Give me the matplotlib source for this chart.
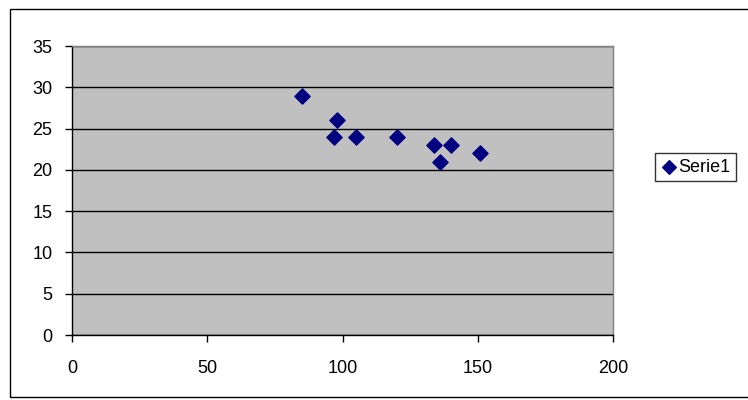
import matplotlib.pyplot as plt
from matplotlib.patches import Rectangle

# Serie1 values
x_vals = [85, 98, 97, 105, 120, 134, 140, 136, 151]
y_vals = [29, 26, 24, 24, 24, 23, 23, 21, 22]
x_ticks = [0, 50, 100, 150, 200]
y_ticks = [0, 5, 10, 15, 20, 25, 30, 35]

plt.rcParams['font.family'] = ['Liberation Sans', 'DejaVu Sans']
plt.rcParams['font.size'] = 13

fig = plt.figure(figsize=(7.48, 4.0), dpi=100)
ax = fig.add_axes([72 / 748, 65 / 400, 541 / 748, 289 / 400])

ax.set_facecolor('#c0c0c0')
ax.scatter(x_vals, y_vals, marker='D', s=60, color='#000080', zorder=3, label='Serie1')

ax.set_xlim(0, 200)
ax.set_ylim(0, 35)
ax.set_xticks(x_ticks)
ax.set_yticks(y_ticks)
ax.yaxis.grid(True, color='black', linewidth=1)
ax.set_axisbelow(True)

for side in ['left', 'bottom']:
    ax.spines[side].set_color('black')
    ax.spines[side].set_linewidth(1)
for side in ['top', 'right']:
    ax.spines[side].set_color('#808080')
    ax.spines[side].set_linewidth(1)
ax.tick_params(direction='out', length=5, width=1, color='black')
ax.tick_params(axis='y', pad=9)
ax.tick_params(axis='x', pad=13)

leg = ax.legend(loc='center left', bbox_to_anchor=(655 / 748, 233 / 400),
                bbox_transform=fig.transFigure, frameon=True, fancybox=False,
                handletextpad=0.0, handlelength=1.0, borderpad=0.3,
                markerscale=0.9, fontsize=13, borderaxespad=0)
leg.get_frame().set_edgecolor('black')
leg.get_frame().set_linewidth(1)

# outer chart border
fig.add_artist(Rectangle((10 / 748, 3 / 400), 745 / 748, 388 / 400,
                         transform=fig.transFigure, fill=False,
                         edgecolor='black', linewidth=1, clip_on=False))

fig.savefig('out.png', dpi=100)
